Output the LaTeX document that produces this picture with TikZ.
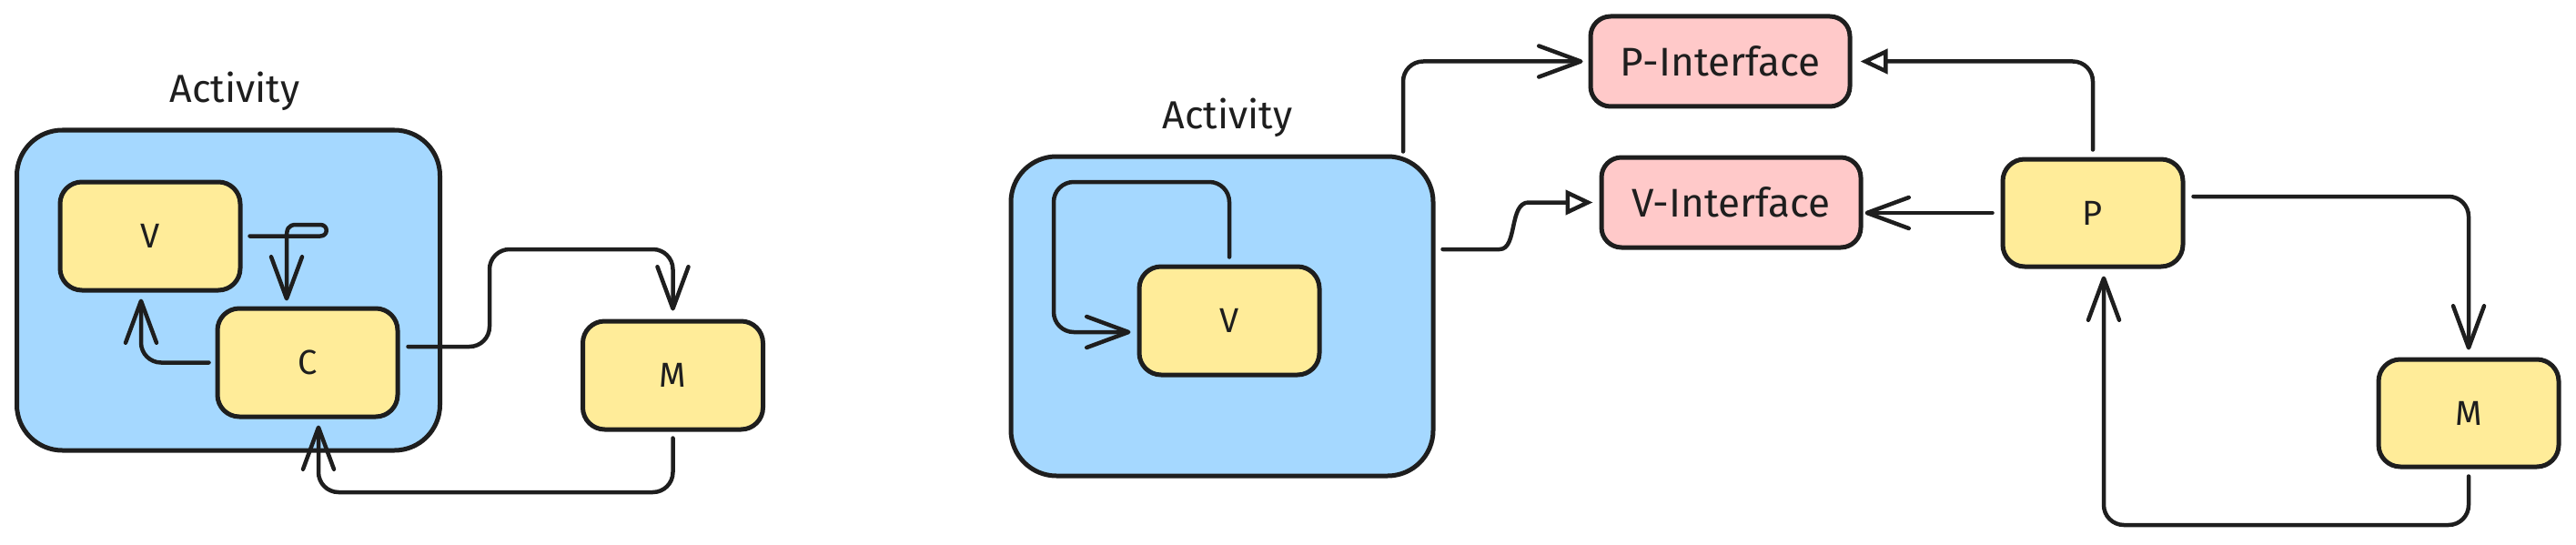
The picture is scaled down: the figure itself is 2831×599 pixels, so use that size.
\documentclass[tikz,border=0pt]{standalone}
\usepackage{fontspec}
\setmainfont{Fira Sans}
\usetikzlibrary{arrows.meta,calc}
\definecolor{ink}{HTML}{1E1E1E}
\definecolor{blu}{HTML}{A5D8FF}
\definecolor{yel}{HTML}{FFEC99}
\definecolor{pnk}{HTML}{FFC9C9}
\begin{document}
\begin{tikzpicture}[x=1pt,y=-1pt,
  box/.style={draw=ink, line width=5pt, rounded corners=24pt, inner sep=0pt, font=\fontsize{38}{42}\selectfont, text=ink},
  ybox/.style={box, fill=yel, minimum width=198pt, minimum height=119pt},
  pbox/.style={box, fill=pnk, rounded corners=22pt, minimum width=285pt, minimum height=99pt, font=\fontsize{44}{48}\selectfont},
  abox/.style={box, fill=blu, rounded corners=50pt, minimum width=465pt, minimum height=352pt},
  lbl/.style={font=\fontsize{43}{47}\selectfont, text=ink, inner sep=0pt, anchor=base},
  con/.style={draw=ink, line width=4.5pt, line cap=round, line join=round, rounded corners=22pt},
  arr/.style={con, -{Straight Barb[length=46pt,width=34pt,round]}},
  tri/.style={con, -{Triangle[open,length=30pt,width=27pt]}},
]
\useasboundingbox (0,0) rectangle (2831,599);
% left diagram
\node[abox] (A1) at (251,319) {};
\node[ybox] (V1) at (165,259.5) {V};
\node[ybox] (C1) at (338,398.5) {C};
\node[ybox] (M1) at (739.5,412.5) {M};
\node[lbl] (T1) at (258,113) {Activity};
% right diagram
\node[abox, minimum width=464pt, minimum height=351pt] (A2) at (1343,347.5) {};
\node[ybox] (V2) at (1351,352.5) {V};
\node[pbox] (PI) at (1890.5,67.5) {P-Interface};
\node[pbox] (VI) at (1902.5,222.5) {V-Interface};
\node[ybox, minimum height=118pt] (P) at (2300,234) {P};
\node[ybox, minimum height=118pt] (M2) at (2713,454) {M};
\node[lbl] (T2) at (1349,142) {Activity};
% connectors left
\draw[arr, rounded corners=0pt] ([xshift=8pt]V1.east) -- (352,259.5) .. controls (361,259.5) and (361,247) .. (352,247) -- (326,247) .. controls (316,247) and (315,252) .. (315,262) -- ([xshift=-23pt,yshift=6pt]C1.north);
\draw[arr] ([xshift=-7pt]C1.west) -| ([xshift=-10pt,yshift=-7pt]V1.south);
\draw[arr] ([xshift=9pt,yshift=17.5pt]C1.east) -- (538,381) -- (538,274) -- (739.5,274) -- ([yshift=9pt]M1.north);
\draw[arr] ([yshift=-7pt]M1.south) -- (739.5,541) -- (350,541) -- ([xshift=12pt,yshift=-7pt]C1.south);
% connectors right
\draw[arr] ([yshift=8pt]V2.north) -- (1351,200) -- (1158,200) -- (1158,365) -- ([xshift=-7pt,yshift=-12.5pt]V2.west);
\draw[arr] ([xshift=199pt,yshift=3pt]A2.north) |- ([xshift=-6pt]PI.west);
\draw[tri, rounded corners=0pt] ([xshift=8pt,yshift=73.5pt]A2.east) -- (1648,274) .. controls (1668,274) and (1658,222.5) .. (1680,222.5) -- ([xshift=-7pt]VI.west);
\draw[tri] ([yshift=8pt]P.north) |- ([xshift=9pt]PI.east);
\draw[arr] ([xshift=-9pt]P.west) -- ++(-140,0);
\draw[arr] ([xshift=9pt,yshift=18pt]P.east) -| ([yshift=8pt]M2.north);
\draw[arr] ([yshift=-8pt]M2.south) -- (2713,577) -- (2312,577) -- ([xshift=12pt,yshift=-8pt]P.south);
\end{tikzpicture}
\end{document}
